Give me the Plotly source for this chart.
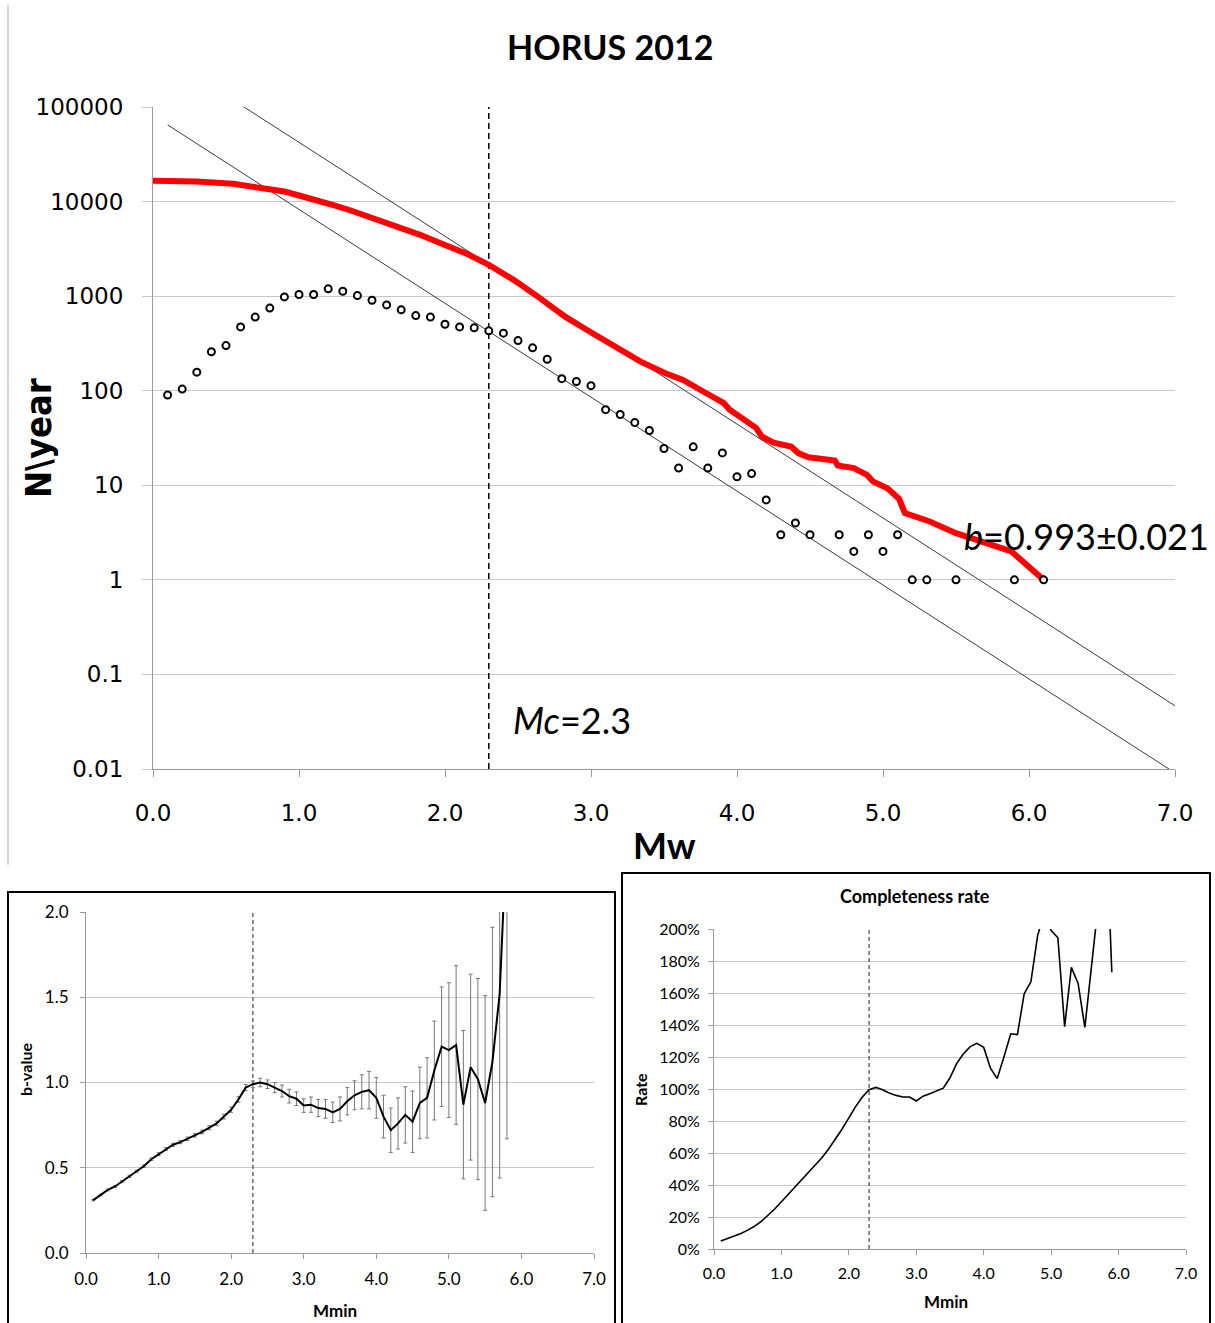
import plotly.graph_objects as go

W, H = 1215, 1323

# ---------------- data: main Gutenberg-Richter chart ----------------
dots_m = [0.1, 0.2, 0.3, 0.4, 0.5, 0.6, 0.7, 0.8, 0.9, 1.0,
          1.1, 1.2, 1.3, 1.4, 1.5, 1.6, 1.7, 1.8, 1.9, 2.0,
          2.1, 2.2, 2.3, 2.4, 2.5, 2.6, 2.7, 2.8, 2.9, 3.0,
          3.1, 3.2, 3.3, 3.4, 3.5, 3.6, 3.7, 3.8, 3.9, 4.0,
          4.1, 4.2, 4.3, 4.4, 4.5, 4.7, 4.8, 4.9, 5.0, 5.1,
          5.2, 5.3, 5.5, 5.9, 6.1]
dots_n = [90, 104, 157, 258, 300, 473, 600, 747, 982, 1040,
          1040, 1195, 1128, 1014, 906, 808, 716, 623, 600, 505,
          473, 462, 430, 406, 339, 284, 215, 134, 125, 113,
          63, 56, 46, 38, 24.5, 15.2, 25.5, 15.2, 22, 12.3,
          13.3, 7, 3, 4, 3, 3, 2, 3, 2, 3,
          1, 1, 1, 1, 1]

cum_m = [0.0, 0.3, 0.55, 0.78, 0.9, 1.0, 1.12, 1.23, 1.35, 1.46, 1.58, 1.69, 1.83, 1.97, 2.14,
         2.3, 2.47, 2.65, 2.82, 2.99, 3.16, 3.34, 3.51, 3.63, 3.79,
         3.91, 3.95, 4.02, 4.09, 4.13, 4.17, 4.25, 4.37, 4.42, 4.49,
         4.67, 4.69, 4.80, 4.89, 4.93, 5.03, 5.11, 5.15, 5.32, 5.5,
         5.69, 5.88, 6.1]
cum_n = [16560, 16290, 15390, 13860, 12800, 11590, 10400, 9230, 8100, 7110, 6200, 5440, 4450, 3630, 2850,
         2140, 1486, 952, 609, 423, 293, 203, 153, 130, 94,
         73.8, 62.8, 53.3, 45.4, 40.5, 32.8, 28.3, 25.7, 21.9, 19.8,
         18.3, 16.2, 15.2, 12.9, 11.0, 9.3, 7.2, 5.07, 4.14, 3.12,
         2.54, 2.0, 1.0]

fit_m = [0.1, 7.0]
fit_cum_n = [331000, 0.0466]
fit_inc_n = [64700, 0.0091]

mc = 2.3
y_ticks = [0.01, 0.1, 1, 10, 100, 1000, 10000, 100000]
y_tick_text = ["0.01", "0.1", "1", "10", "100", "1000", "10000", "100000"]
x_ticks = [0, 1, 2, 3, 4, 5, 6, 7]

# ---------------- data: b-value vs Mmin ----------------
mmin_b = [0.1, 0.2, 0.3, 0.4, 0.5, 0.6, 0.7, 0.8, 0.9, 1.0,
          1.1, 1.2, 1.3, 1.4, 1.5, 1.6, 1.7, 1.8, 1.9, 2.0,
          2.1, 2.2, 2.3, 2.4, 2.5, 2.6, 2.7, 2.8, 2.9, 3.0,
          3.1, 3.2, 3.3, 3.4, 3.5, 3.6, 3.7, 3.8, 3.9, 4.0,
          4.1, 4.2, 4.3, 4.4, 4.5, 4.6, 4.7, 4.8, 4.9, 5.0,
          5.1, 5.2, 5.3, 5.4, 5.5, 5.6, 5.7, 5.8]
b_value = [0.31, 0.34, 0.37, 0.39, 0.42, 0.45, 0.48, 0.51, 0.55, 0.58,
           0.61, 0.635, 0.65, 0.67, 0.69, 0.71, 0.735, 0.76, 0.80, 0.84,
           0.90, 0.97, 0.99, 1.00, 0.99, 0.97, 0.95, 0.92, 0.905, 0.865,
           0.87, 0.85, 0.845, 0.825, 0.845, 0.89, 0.925, 0.945, 0.955, 0.91,
           0.80, 0.72, 0.76, 0.81, 0.77, 0.88, 0.91, 1.07, 1.21, 1.19,
           1.22, 0.87, 1.09, 1.02, 0.88, 1.12, 1.52, 2.5]
b_err = [0.004, 0.004, 0.005, 0.005, 0.005, 0.006, 0.006, 0.007, 0.007, 0.008,
         0.008, 0.009, 0.009, 0.010, 0.010, 0.011, 0.012, 0.013, 0.014, 0.015,
         0.016, 0.018, 0.020, 0.025, 0.025, 0.030, 0.035, 0.040, 0.040, 0.040,
         0.045, 0.050, 0.055, 0.060, 0.070, 0.080, 0.085, 0.100, 0.110, 0.120,
         0.125, 0.130, 0.150, 0.165, 0.180, 0.210, 0.235, 0.290, 0.350, 0.395,
         0.465, 0.435, 0.545, 0.590, 0.630, 0.790, 1.080, 1.830]

# ---------------- data: completeness rate ----------------
mmin_c = [0.1, 0.2, 0.3, 0.4, 0.5, 0.6, 0.7, 0.8, 0.9, 1.0,
          1.1, 1.2, 1.3, 1.4, 1.5, 1.6, 1.7, 1.8, 1.9, 2.0,
          2.1, 2.2, 2.3, 2.4, 2.5, 2.6, 2.7, 2.8, 2.9, 3.0,
          3.1, 3.2, 3.3, 3.4, 3.5, 3.6, 3.7, 3.8, 3.9, 4.0,
          4.1, 4.2, 4.3, 4.4, 4.5, 4.6, 4.7, 4.8, 4.9, 5.0,
          5.1, 5.2, 5.3, 5.4, 5.5, 5.6, 5.7, 5.8, 5.9]
comp_rate = [0.05, 0.065, 0.08, 0.097, 0.118, 0.142, 0.172, 0.21, 0.25, 0.295,
             0.34, 0.385, 0.43, 0.475, 0.525, 0.57, 0.625, 0.685, 0.75, 0.82,
             0.89, 0.95, 0.995, 1.01, 0.995, 0.975, 0.96, 0.95, 0.95, 0.925,
             0.955, 0.97, 0.99, 1.005, 1.07, 1.16, 1.22, 1.265, 1.285, 1.26,
             1.13, 1.065, 1.20, 1.345, 1.34, 1.595, 1.67, 1.96, 2.10, 1.99,
             1.945, 1.39, 1.76, 1.66, 1.385, 1.76, 2.16, 2.81, 1.73]

# ---------------- figure ----------------
TXT = "Lato, 'Open Sans', sans-serif"
GRID = "#c8c8c8"
AX = "#9a9a9a"

fig = go.Figure()

# main chart (x, y)
fig.add_trace(go.Scatter(x=fit_m, y=fit_inc_n, mode="lines",
                         line=dict(color="#3a3a3a", width=1), xaxis="x", yaxis="y", showlegend=False))
fig.add_trace(go.Scatter(x=fit_m, y=fit_cum_n, mode="lines",
                         line=dict(color="#3a3a3a", width=1), xaxis="x", yaxis="y", showlegend=False))
fig.add_trace(go.Scatter(x=[mc, mc], y=[y_ticks[0], y_ticks[-1]], mode="lines",
                         line=dict(color="black", width=1.5, dash="6px,4px"), xaxis="x", yaxis="y", showlegend=False))
fig.add_trace(go.Scatter(x=cum_m, y=cum_n, mode="lines",
                         line=dict(color="#ff0000", width=6), xaxis="x", yaxis="y", showlegend=False))
fig.add_trace(go.Scatter(x=dots_m, y=dots_n, mode="markers",
                         marker=dict(symbol="circle", size=7, color="white",
                                     line=dict(color="black", width=2)),
                         xaxis="x", yaxis="y", showlegend=False))

# b-value chart (x2, y2)
fig.add_trace(go.Scatter(x=[mc, mc], y=[0, 2], mode="lines",
                         line=dict(color="#444", width=1.2, dash="4px,3px"), xaxis="x2", yaxis="y2", showlegend=False))
fig.add_trace(go.Scatter(x=mmin_b, y=b_value, mode="lines",
                         line=dict(color="black", width=2),
                         error_y=dict(type="data", array=b_err, visible=True,
                                      color="#777777", thickness=1, width=2),
                         xaxis="x2", yaxis="y2", showlegend=False))

# completeness chart (x3, y3)
fig.add_trace(go.Scatter(x=[mc, mc], y=[0, 2], mode="lines",
                         line=dict(color="#444", width=1.2, dash="4px,3px"), xaxis="x3", yaxis="y3", showlegend=False))
fig.add_trace(go.Scatter(x=mmin_c, y=comp_rate, mode="lines",
                         line=dict(color="black", width=1.6),
                         xaxis="x3", yaxis="y3", showlegend=False))


def px_x(p):
    return p / W


def px_y(p):
    return 1 - p / H


fig.update_layout(
    width=W, height=H,
    margin=dict(l=0, r=0, t=0, b=0, autoexpand=False),
    paper_bgcolor="white", plot_bgcolor="white",
    showlegend=False,
    xaxis=dict(domain=[px_x(153), px_x(1175)], anchor="y", range=[0, 7], automargin=False,
               tickvals=x_ticks, tickformat=".1f", showgrid=False, zeroline=False,
               showline=True, linecolor=AX, linewidth=1, ticks="outside", ticklen=7,
               tickcolor=AX, ticklabelstandoff=16,
               tickfont=dict(family="DejaVu Sans", size=23, color="black")),
    yaxis=dict(domain=[px_y(769), px_y(107)], anchor="x", type="log", range=[-2, 5],
               automargin=False,
               tickvals=y_ticks, ticktext=y_tick_text, showgrid=True, gridcolor=GRID,
               gridwidth=1, zeroline=False, showline=True, linecolor=AX, linewidth=1,
               ticks="outside", ticklen=10, tickcolor=GRID, ticklabelstandoff=14,
               tickfont=dict(family="DejaVu Sans", size=23, color="black")),
    xaxis2=dict(domain=[px_x(86), px_x(594)], anchor="y2", range=[0, 7], automargin=False,
                tickvals=x_ticks, tickformat=".1f", showgrid=False, zeroline=False,
                showline=True, linecolor=AX, linewidth=1, ticks="outside", ticklen=5,
                tickcolor=AX, ticklabelstandoff=6,
                tickfont=dict(family=TXT, size=17, color="black")),
    yaxis2=dict(domain=[px_y(1253), px_y(912)], anchor="x2", range=[0, 2], automargin=False,
                dtick=0.5, tickformat=".1f", showgrid=True, gridcolor=GRID, zeroline=False,
                showline=True, linecolor=AX, linewidth=1, ticks="outside", ticklen=5,
                tickcolor=AX, ticklabelstandoff=8,
                tickfont=dict(family=TXT, size=17, color="black")),
    xaxis3=dict(domain=[px_x(714), px_x(1186)], anchor="y3", range=[0, 7], automargin=False,
                tickvals=x_ticks, tickformat=".1f", showgrid=False, zeroline=False,
                showline=True, linecolor=AX, linewidth=1, ticks="outside", ticklen=5,
                tickcolor=AX, ticklabelstandoff=5,
                tickfont=dict(family=TXT, size=16, color="black")),
    yaxis3=dict(domain=[px_y(1249), px_y(929)], anchor="x3", range=[0, 2], automargin=False,
                dtick=0.2, tickformat=".0%", showgrid=True, gridcolor=GRID, zeroline=False,
                showline=True, linecolor=AX, linewidth=1, ticks="outside", ticklen=5,
                tickcolor=AX, ticklabelstandoff=5,
                tickfont=dict(family=TXT, size=16, color="black")),
)

annots = [
    dict(text="<b>HORUS 2012</b>", x=px_x(610), y=px_y(46), size=34),
    dict(text="<b>Mw</b>", x=px_x(665), y=px_y(845), size=36),
    dict(text="<b>N\\year</b>", x=px_x(38), y=px_y(438), size=36, angle=-90,
         family="'Liberation Sans Narrow', 'DejaVu Sans Condensed', 'Liberation Sans', sans-serif"),
    dict(text="<i>Mc</i>=2.3", x=px_x(572), y=px_y(720), size=36),
    dict(text="<i>b</i>=0.993±0.021", x=px_x(1086), y=px_y(536), size=36),
    dict(text="<b>b-value</b>", x=px_x(25), y=px_y(1070), size=16, angle=-90),
    dict(text="<b>Mmin</b>", x=px_x(335), y=px_y(1310), size=17),
    dict(text="<b>Completeness rate</b>", x=px_x(915), y=px_y(896), size=18),
    dict(text="<b>Rate</b>", x=px_x(640), y=px_y(1090), size=16, angle=-90),
    dict(text="<b>Mmin</b>", x=px_x(946), y=px_y(1301), size=17),
]
for a in annots:
    fig.add_annotation(text=a["text"], x=a["x"], y=a["y"], xref="paper", yref="paper",
                       xanchor="center", yanchor="middle", showarrow=False,
                       textangle=a.get("angle", 0),
                       font=dict(family=a.get("family", TXT), size=a["size"], color="black"))

# panel frames
fig.add_shape(type="line", xref="paper", yref="paper", x0=px_x(8), x1=px_x(8),
              y0=px_y(5), y1=px_y(865), line=dict(color="#b0b0b0", width=1))
fig.add_shape(type="rect", xref="paper", yref="paper", x0=px_x(8), x1=px_x(615),
              y0=px_y(892), y1=px_y(1330), line=dict(color="black", width=2))
fig.add_shape(type="rect", xref="paper", yref="paper", x0=px_x(622), x1=px_x(1210),
              y0=px_y(873), y1=px_y(1330), line=dict(color="black", width=2))

fig.write_html("out.html", config={"displayModeBar": False},
               post_script="document.body.style.margin='0';document.body.style.overflow='hidden';")
